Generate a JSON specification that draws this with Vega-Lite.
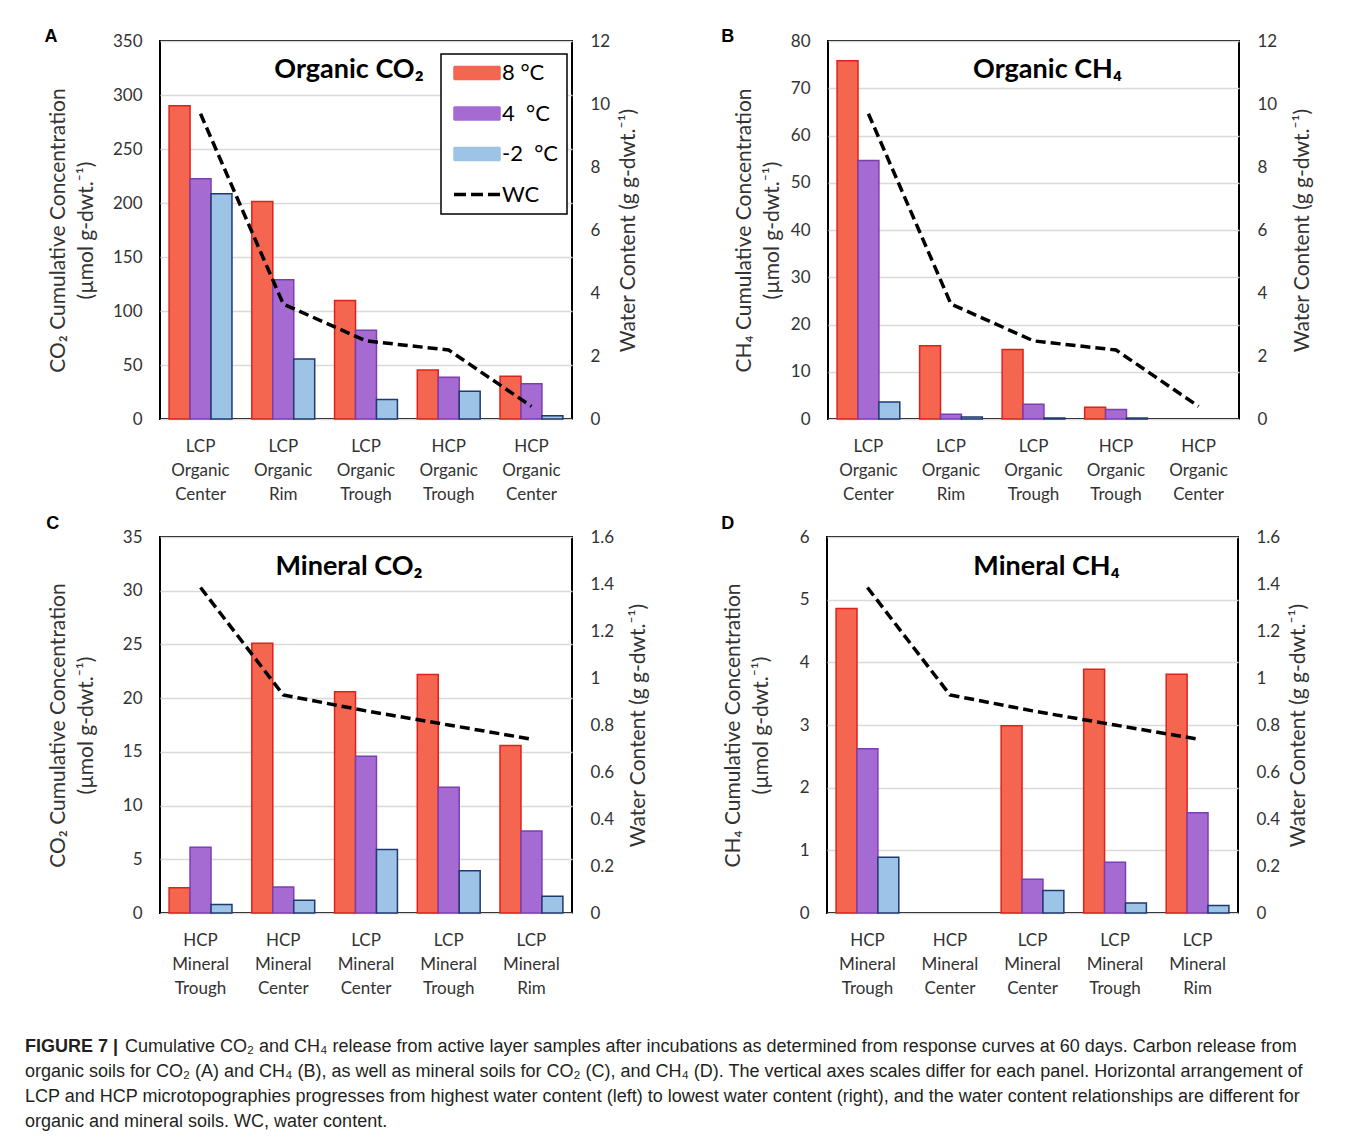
{
  "$schema": "https://vega.github.io/schema/vega-lite/v6.json",
  "padding": {"left": 25, "top": 28, "right": 5, "bottom": 5},
  "background": "white",
  "datasets": {
    "bars": [
      {"panel": "A", "site": "LCP Organic Center", "temp": "8", "conc": 290},
      {"panel": "A", "site": "LCP Organic Center", "temp": "4", "conc": 222.5},
      {"panel": "A", "site": "LCP Organic Center", "temp": "-2", "conc": 208.5},
      {"panel": "A", "site": "LCP Organic Rim", "temp": "8", "conc": 201.5},
      {"panel": "A", "site": "LCP Organic Rim", "temp": "4", "conc": 129},
      {"panel": "A", "site": "LCP Organic Rim", "temp": "-2", "conc": 55.5},
      {"panel": "A", "site": "LCP Organic Trough", "temp": "8", "conc": 109.7},
      {"panel": "A", "site": "LCP Organic Trough", "temp": "4", "conc": 82.2},
      {"panel": "A", "site": "LCP Organic Trough", "temp": "-2", "conc": 18},
      {"panel": "A", "site": "HCP Organic Trough", "temp": "8", "conc": 45.4},
      {"panel": "A", "site": "HCP Organic Trough", "temp": "4", "conc": 38.6},
      {"panel": "A", "site": "HCP Organic Trough", "temp": "-2", "conc": 25.6},
      {"panel": "A", "site": "HCP Organic Center", "temp": "8", "conc": 39.5},
      {"panel": "A", "site": "HCP Organic Center", "temp": "4", "conc": 32.7},
      {"panel": "A", "site": "HCP Organic Center", "temp": "-2", "conc": 3.1},
      {"panel": "B", "site": "LCP Organic Center", "temp": "8", "conc": 75.8},
      {"panel": "B", "site": "LCP Organic Center", "temp": "4", "conc": 54.7},
      {"panel": "B", "site": "LCP Organic Center", "temp": "-2", "conc": 3.6},
      {"panel": "B", "site": "LCP Organic Rim", "temp": "8", "conc": 15.5},
      {"panel": "B", "site": "LCP Organic Rim", "temp": "4", "conc": 1.0},
      {"panel": "B", "site": "LCP Organic Rim", "temp": "-2", "conc": 0.4},
      {"panel": "B", "site": "LCP Organic Trough", "temp": "8", "conc": 14.7},
      {"panel": "B", "site": "LCP Organic Trough", "temp": "4", "conc": 3.1},
      {"panel": "B", "site": "LCP Organic Trough", "temp": "-2", "conc": 0.2},
      {"panel": "B", "site": "HCP Organic Trough", "temp": "8", "conc": 2.5},
      {"panel": "B", "site": "HCP Organic Trough", "temp": "4", "conc": 2.0},
      {"panel": "B", "site": "HCP Organic Trough", "temp": "-2", "conc": 0.2},
      {"panel": "C", "site": "HCP Mineral Trough", "temp": "8", "conc": 2.36},
      {"panel": "C", "site": "HCP Mineral Trough", "temp": "4", "conc": 6.11},
      {"panel": "C", "site": "HCP Mineral Trough", "temp": "-2", "conc": 0.78},
      {"panel": "C", "site": "HCP Mineral Center", "temp": "8", "conc": 25.1},
      {"panel": "C", "site": "HCP Mineral Center", "temp": "4", "conc": 2.42},
      {"panel": "C", "site": "HCP Mineral Center", "temp": "-2", "conc": 1.18},
      {"panel": "C", "site": "LCP Mineral Center", "temp": "8", "conc": 20.6},
      {"panel": "C", "site": "LCP Mineral Center", "temp": "4", "conc": 14.6},
      {"panel": "C", "site": "LCP Mineral Center", "temp": "-2", "conc": 5.9},
      {"panel": "C", "site": "LCP Mineral Trough", "temp": "8", "conc": 22.2},
      {"panel": "C", "site": "LCP Mineral Trough", "temp": "4", "conc": 11.7},
      {"panel": "C", "site": "LCP Mineral Trough", "temp": "-2", "conc": 3.94},
      {"panel": "C", "site": "LCP Mineral Rim", "temp": "8", "conc": 15.6},
      {"panel": "C", "site": "LCP Mineral Rim", "temp": "4", "conc": 7.63},
      {"panel": "C", "site": "LCP Mineral Rim", "temp": "-2", "conc": 1.55},
      {"panel": "D", "site": "HCP Mineral Trough", "temp": "8", "conc": 4.86},
      {"panel": "D", "site": "HCP Mineral Trough", "temp": "4", "conc": 2.62},
      {"panel": "D", "site": "HCP Mineral Trough", "temp": "-2", "conc": 0.89},
      {"panel": "D", "site": "LCP Mineral Center", "temp": "8", "conc": 2.99},
      {"panel": "D", "site": "LCP Mineral Center", "temp": "4", "conc": 0.54},
      {"panel": "D", "site": "LCP Mineral Center", "temp": "-2", "conc": 0.36},
      {"panel": "D", "site": "LCP Mineral Trough", "temp": "8", "conc": 3.89},
      {"panel": "D", "site": "LCP Mineral Trough", "temp": "4", "conc": 0.81},
      {"panel": "D", "site": "LCP Mineral Trough", "temp": "-2", "conc": 0.16},
      {"panel": "D", "site": "LCP Mineral Rim", "temp": "8", "conc": 3.81},
      {"panel": "D", "site": "LCP Mineral Rim", "temp": "4", "conc": 1.6},
      {"panel": "D", "site": "LCP Mineral Rim", "temp": "-2", "conc": 0.12}
    ],
    "wc": [
      {"panel": "A", "site": "LCP Organic Center", "wc": 9.69},
      {"panel": "A", "site": "LCP Organic Rim", "wc": 3.65},
      {"panel": "A", "site": "LCP Organic Trough", "wc": 2.48},
      {"panel": "A", "site": "HCP Organic Trough", "wc": 2.19},
      {"panel": "A", "site": "HCP Organic Center", "wc": 0.4},
      {"panel": "B", "site": "LCP Organic Center", "wc": 9.69},
      {"panel": "B", "site": "LCP Organic Rim", "wc": 3.65},
      {"panel": "B", "site": "LCP Organic Trough", "wc": 2.48},
      {"panel": "B", "site": "HCP Organic Trough", "wc": 2.19},
      {"panel": "B", "site": "HCP Organic Center", "wc": 0.4},
      {"panel": "C", "site": "HCP Mineral Trough", "wc": 1.385},
      {"panel": "C", "site": "HCP Mineral Center", "wc": 0.928},
      {"panel": "C", "site": "LCP Mineral Center", "wc": 0.86},
      {"panel": "C", "site": "LCP Mineral Trough", "wc": 0.8},
      {"panel": "C", "site": "LCP Mineral Rim", "wc": 0.74},
      {"panel": "D", "site": "HCP Mineral Trough", "wc": 1.385},
      {"panel": "D", "site": "HCP Mineral Center", "wc": 0.928},
      {"panel": "D", "site": "LCP Mineral Center", "wc": 0.86},
      {"panel": "D", "site": "LCP Mineral Trough", "wc": 0.8},
      {"panel": "D", "site": "LCP Mineral Rim", "wc": 0.74}
    ],
    "caption": [
      {"line": 1, "part": "b", "text": "FIGURE 7 |"},
      {"line": 1, "part": "n1", "text": "Cumulative CO₂ and CH₄ release from active layer samples after incubations as determined from response curves at 60 days. Carbon release from"},
      {"line": 2, "part": "n", "text": "organic soils for CO₂ (A) and CH₄ (B), as well as mineral soils for CO₂ (C), and CH₄ (D). The vertical axes scales differ for each panel. Horizontal arrangement of"},
      {"line": 3, "part": "n", "text": "LCP and HCP microtopographies progresses from highest water content (left) to lowest water content (right), and the water content relationships are different for"},
      {"line": 4, "part": "n", "text": "organic and mineral soils. WC, water content."}
    ]
  },
  "config": {
    "font": "Lato",
    "view": {"stroke": "black", "strokeWidth": 2},
    "axis": {"labelFont": "Lato", "labelFontSize": 17, "labelColor": "#333333", "titleFont": "Lato", "titleFontSize": 21, "titleFontWeight": "normal", "titleColor": "#333333", "domain": false, "ticks": false},
    "axisX": {"title": null, "labelAngle": 0, "labelPadding": 19, "labelLineHeight": 24},
    "title": {"color": "black"}
  },
  "vconcat": [
    {
      "vconcat": [
        {
          "hconcat": [
            {
              "title": {"text": "A", "anchor": "start", "font": "Liberation Sans", "fontSize": 18, "fontWeight": "bold", "offset": -15, "dx": -2},
              "resolve": {"scale": {"color": "independent", "stroke": "independent", "xOffset": "independent"}, "legend": {"color": "independent", "stroke": "independent"}},
              "vconcat": [{
                "width": 412, "height": 378,
                "title": {"text": "Organic CO₂", "fontSize": 27, "fontWeight": "bold", "offset": -52, "dx": -17},
                "encoding": {"x": {"field": "site", "type": "nominal", "scale": {"domain": ["LCP Organic Center", "LCP Organic Rim", "LCP Organic Trough", "HCP Organic Trough", "HCP Organic Center"], "paddingInner": 0.24, "paddingOuter": 0.11}, "axis": {"labelExpr": "split(datum.label, ' ')"}}},
                "layer": [
                  {
                    "data": {"name": "bars"}, "transform": [{"filter": "datum.panel == 'A'"}],
                    "mark": {"type": "bar", "strokeWidth": 1.5},
                    "encoding": {
                      "xOffset": {"field": "temp", "type": "nominal", "scale": {"domain": ["8", "4", "-2"]}},
                      "y": {"field": "conc", "type": "quantitative", "scale": {"domain": [0, 350]}, "axis": {"values": [0, 50, 100, 150, 200, 250, 300, 350], "grid": true, "gridColor": "#d9d9d9", "gridWidth": 1.5, "labelPadding": 18, "title": ["CO₂ Cumulative Concentration", "(µmol g-dwt.⁻¹)"], "titleLineHeight": 28, "titlePadding": 16}},
                      "color": {"field": "temp", "type": "nominal", "scale": {"domain": ["8", "4", "-2", "WC"], "range": ["#F4664F", "#A66BD3", "#9DC3E6", "black"]},
                        "legend": {"orient": "none", "legendX": 281, "legendY": 13, "title": null, "strokeColor": "black", "fillColor": "white", "padding": 8, "labelFontSize": 22, "labelFont": "Lato", "labelColor": "black", "symbolSize": 400, "symbolOffset": 17, "labelOffset": 14, "rowPadding": 18.5,
                          "labelExpr": "datum.value === '8' ? '8 °C' : datum.value === '4' ? '4 \u00a0°C' : datum.value === '-2' ? '-2 \u00a0°C' : 'WC'",
                          "encode": {
                            "legend": {"update": {"strokeWidth": {"value": 1.5}}},
                            "symbols": {"update": {
                              "shape": {"signal": "datum.value === 'WC' ? 'M-2.3,0H2.3' : 'M-2.3,-0.65H2.3V0.65H-2.3Z'"},
                              "fill": {"signal": "datum.value === 'WC' ? 'transparent' : datum.value === '8' ? '#F4664F' : datum.value === '4' ? '#A66BD3' : '#9DC3E6'"},
                              "stroke": {"signal": "datum.value === 'WC' ? 'black' : datum.value === '8' ? '#E0201B' : datum.value === '4' ? '#7B3FB0' : '#1F3A6E'"},
                              "strokeDash": {"signal": "datum.value === 'WC' ? [12, 5] : [1, 0]"},
                              "strokeWidth": {"signal": "datum.value === 'WC' ? 3.5 : 1.5"},
                              "opacity": {"value": 1}
                            }}}}},
                      "stroke": {"field": "temp", "type": "nominal", "scale": {"domain": ["8", "4", "-2"], "range": ["#E0201B", "#7B3FB0", "#1F3A6E"]}, "legend": null}
                    }
                  },
                  {
                    "data": {"name": "wc"}, "transform": [{"filter": "datum.panel == 'A'"}],
                    "mark": {"type": "line", "strokeDash": [10, 5], "strokeWidth": 3.5},
                    "encoding": {
                      "y": {"field": "wc", "type": "quantitative", "scale": {"domain": [0, 12]}, "axis": {"orient": "right", "values": [0, 2, 4, 6, 8, 10, 12], "grid": false, "labelPadding": 18, "title": "Water Content (g g-dwt.⁻¹)", "titleAngle": -90, "titleBaseline": "top", "titlePadding": 8}},
                      "color": {"datum": "WC"}
                    }
                  }
                ],
                "resolve": {"scale": {"y": "independent"}}
              }]
            },
            {
              "title": {"text": "B", "anchor": "start", "font": "Liberation Sans", "fontSize": 18, "fontWeight": "bold", "offset": -15, "dx": -11},
              "resolve": {"scale": {"color": "independent", "stroke": "independent", "xOffset": "independent"}, "legend": {"color": "independent", "stroke": "independent"}},
              "vconcat": [{
                "width": 411, "height": 378,
                "title": {"text": "Organic CH₄", "fontSize": 27, "fontWeight": "bold", "offset": -52, "dx": 14},
                "encoding": {"x": {"field": "site", "type": "nominal", "scale": {"domain": ["LCP Organic Center", "LCP Organic Rim", "LCP Organic Trough", "HCP Organic Trough", "HCP Organic Center"], "paddingInner": 0.24, "paddingOuter": 0.11}, "axis": {"labelExpr": "split(datum.label, ' ')"}}},
                "layer": [
                  {
                    "data": {"name": "bars"}, "transform": [{"filter": "datum.panel == 'B'"}],
                    "mark": {"type": "bar", "strokeWidth": 1.5},
                    "encoding": {
                      "xOffset": {"field": "temp", "type": "nominal", "scale": {"domain": ["8", "4", "-2"]}},
                      "y": {"field": "conc", "type": "quantitative", "scale": {"domain": [0, 80]}, "axis": {"values": [0, 10, 20, 30, 40, 50, 60, 70, 80], "grid": true, "gridColor": "#d9d9d9", "gridWidth": 1.5, "labelPadding": 18, "title": ["CH₄ Cumulative Concentration", "(µmol g-dwt.⁻¹)"], "titleLineHeight": 28, "titlePadding": 8}},
                      "color": {"field": "temp", "type": "nominal", "scale": {"domain": ["8", "4", "-2"], "range": ["#F4664F", "#A66BD3", "#9DC3E6"]}, "legend": null},
                      "stroke": {"field": "temp", "type": "nominal", "scale": {"domain": ["8", "4", "-2"], "range": ["#E0201B", "#7B3FB0", "#1F3A6E"]}, "legend": null}
                    }
                  },
                  {
                    "data": {"name": "wc"}, "transform": [{"filter": "datum.panel == 'B'"}],
                    "mark": {"type": "line", "strokeDash": [10, 5], "strokeWidth": 3.5, "color": "black"},
                    "encoding": {
                      "y": {"field": "wc", "type": "quantitative", "scale": {"domain": [0, 12]}, "axis": {"orient": "right", "values": [0, 2, 4, 6, 8, 10, 12], "grid": false, "labelPadding": 18, "title": "Water Content (g g-dwt.⁻¹)", "titleAngle": -90, "titleBaseline": "top", "titlePadding": 15}}
                    }
                  }
                ],
                "resolve": {"scale": {"y": "independent"}}
              }]
            }
          ],
          "spacing": 81,
          "resolve": {"scale": {"color": "independent", "stroke": "independent", "xOffset": "independent"}, "legend": {"color": "independent", "stroke": "independent"}}
        },
        {
          "hconcat": [
            {
              "title": {"text": "C", "anchor": "start", "font": "Liberation Sans", "fontSize": 18, "fontWeight": "bold", "offset": -6, "dx": 0},
              "resolve": {"scale": {"color": "independent", "stroke": "independent", "xOffset": "independent"}, "legend": {"color": "independent", "stroke": "independent"}},
              "vconcat": [{
                "width": 412, "height": 376,
                "title": {"text": "Mineral CO₂", "fontSize": 27, "fontWeight": "bold", "offset": -53, "dx": -17},
                "encoding": {"x": {"field": "site", "type": "nominal", "scale": {"domain": ["HCP Mineral Trough", "HCP Mineral Center", "LCP Mineral Center", "LCP Mineral Trough", "LCP Mineral Rim"], "paddingInner": 0.24, "paddingOuter": 0.11}, "axis": {"labelExpr": "split(datum.label, ' ')"}}},
                "layer": [
                  {
                    "data": {"name": "bars"}, "transform": [{"filter": "datum.panel == 'C'"}],
                    "mark": {"type": "bar", "strokeWidth": 1.5},
                    "encoding": {
                      "xOffset": {"field": "temp", "type": "nominal", "scale": {"domain": ["8", "4", "-2"]}},
                      "y": {"field": "conc", "type": "quantitative", "scale": {"domain": [0, 35]}, "axis": {"values": [0, 5, 10, 15, 20, 25, 30, 35], "grid": true, "gridColor": "#d9d9d9", "gridWidth": 1.5, "labelPadding": 18, "title": ["CO₂ Cumulative Concentration", "(µmol g-dwt.⁻¹)"], "titleLineHeight": 28, "titlePadding": 26}},
                      "color": {"field": "temp", "type": "nominal", "scale": {"domain": ["8", "4", "-2"], "range": ["#F4664F", "#A66BD3", "#9DC3E6"]}, "legend": null},
                      "stroke": {"field": "temp", "type": "nominal", "scale": {"domain": ["8", "4", "-2"], "range": ["#E0201B", "#7B3FB0", "#1F3A6E"]}, "legend": null}
                    }
                  },
                  {
                    "data": {"name": "wc"}, "transform": [{"filter": "datum.panel == 'C'"}],
                    "mark": {"type": "line", "strokeDash": [10, 5], "strokeWidth": 3.5, "color": "black"},
                    "encoding": {
                      "y": {"field": "wc", "type": "quantitative", "scale": {"domain": [0, 1.6]}, "axis": {"orient": "right", "values": [0, 0.2, 0.4, 0.6, 0.8, 1, 1.2, 1.4, 1.6], "format": ".1~f", "grid": false, "labelPadding": 18, "title": "Water Content (g g-dwt.⁻¹)", "titleAngle": -90, "titleBaseline": "top", "titlePadding": 14}}
                    }
                  }
                ],
                "resolve": {"scale": {"y": "independent"}}
              }]
            },
            {
              "title": {"text": "D", "anchor": "start", "font": "Liberation Sans", "fontSize": 18, "fontWeight": "bold", "offset": -6, "dx": 0},
              "resolve": {"scale": {"color": "independent", "stroke": "independent", "xOffset": "independent"}, "legend": {"color": "independent", "stroke": "independent"}},
              "vconcat": [{
                "width": 411, "height": 376,
                "title": {"text": "Mineral CH₄", "fontSize": 27, "fontWeight": "bold", "offset": -53, "dx": 14},
                "encoding": {"x": {"field": "site", "type": "nominal", "scale": {"domain": ["HCP Mineral Trough", "HCP Mineral Center", "LCP Mineral Center", "LCP Mineral Trough", "LCP Mineral Rim"], "paddingInner": 0.24, "paddingOuter": 0.11}, "axis": {"labelExpr": "split(datum.label, ' ')"}}},
                "layer": [
                  {
                    "data": {"name": "bars"}, "transform": [{"filter": "datum.panel == 'D'"}],
                    "mark": {"type": "bar", "strokeWidth": 1.5},
                    "encoding": {
                      "xOffset": {"field": "temp", "type": "nominal", "scale": {"domain": ["8", "4", "-2"]}},
                      "y": {"field": "conc", "type": "quantitative", "scale": {"domain": [0, 6]}, "axis": {"values": [0, 1, 2, 3, 4, 5, 6], "grid": true, "gridColor": "#d9d9d9", "gridWidth": 1.5, "labelPadding": 18, "title": ["CH₄ Cumulative Concentration", "(µmol g-dwt.⁻¹)"], "titleLineHeight": 28, "titlePadding": 28}},
                      "color": {"field": "temp", "type": "nominal", "scale": {"domain": ["8", "4", "-2"], "range": ["#F4664F", "#A66BD3", "#9DC3E6"]}, "legend": null},
                      "stroke": {"field": "temp", "type": "nominal", "scale": {"domain": ["8", "4", "-2"], "range": ["#E0201B", "#7B3FB0", "#1F3A6E"]}, "legend": null}
                    }
                  },
                  {
                    "data": {"name": "wc"}, "transform": [{"filter": "datum.panel == 'D'"}],
                    "mark": {"type": "line", "strokeDash": [10, 5], "strokeWidth": 3.5, "color": "black"},
                    "encoding": {
                      "y": {"field": "wc", "type": "quantitative", "scale": {"domain": [0, 1.6]}, "axis": {"orient": "right", "values": [0, 0.2, 0.4, 0.6, 0.8, 1, 1.2, 1.4, 1.6], "format": ".1~f", "grid": false, "labelPadding": 18, "title": "Water Content (g g-dwt.⁻¹)", "titleAngle": -90, "titleBaseline": "top", "titlePadding": 8}}
                    }
                  }
                ],
                "resolve": {"scale": {"y": "independent"}}
              }]
            }
          ],
          "spacing": 71,
          "resolve": {"scale": {"color": "independent", "stroke": "independent", "xOffset": "independent"}, "legend": {"color": "independent", "stroke": "independent"}}
        }
      ],
      "spacing": 12,
      "resolve": {"scale": {"color": "independent", "stroke": "independent", "xOffset": "independent"}, "legend": {"color": "independent", "stroke": "independent"}}
    },
    {
      "width": 1000, "height": 100,
      "view": {"stroke": null},
      "data": {"name": "caption"},
      "encoding": {
        "y": {"field": "line", "type": "ordinal", "axis": null},
        "x": {"value": 0},
        "text": {"field": "text"}
      },
      "layer": [
        {"transform": [{"filter": "datum.part == 'b'"}], "mark": {"type": "text", "align": "left", "baseline": "middle", "font": "Liberation Sans", "fontSize": 18, "fontWeight": "bold", "color": "#231f20", "dx": -135}},
        {"transform": [{"filter": "datum.part == 'n1'"}], "mark": {"type": "text", "align": "left", "baseline": "middle", "font": "Liberation Sans", "fontSize": 18, "color": "#231f20", "dx": -35}},
        {"transform": [{"filter": "datum.part == 'n'"}], "mark": {"type": "text", "align": "left", "baseline": "middle", "font": "Liberation Sans", "fontSize": 18, "color": "#231f20", "dx": -135}}
      ]
    }
  ],
  "spacing": 37,
  "resolve": {"scale": {"color": "independent", "stroke": "independent", "xOffset": "independent"}, "legend": {"color": "independent", "stroke": "independent"}}
}
